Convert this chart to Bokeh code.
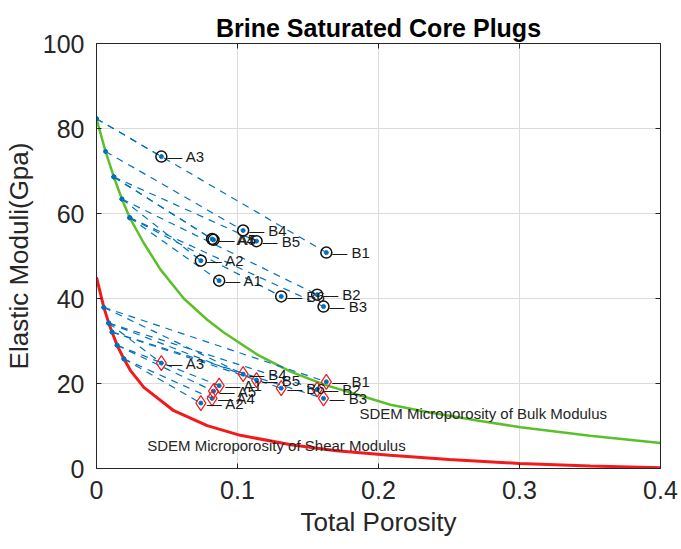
from bokeh.plotting import figure
from bokeh.models import (ColumnDataSource, FixedTicker, LinearAxis, Range1d,
                          CustomJSTickFormatter, Label, LabelSet)
from bokeh.core.properties import value
from bokeh.embed import file_html
from bokeh.resources import INLINE

# ---------------- data ----------------
samples = ["A1", "A2", "A3", "A4", "A5", "B1", "B2", "B3", "B4", "B5", "B6"]
porosity = [0.087, 0.074, 0.046, 0.082, 0.083, 0.163, 0.1565, 0.161, 0.104, 0.1135, 0.131]
bulk_mod = [44.2, 48.9, 73.4, 54.0, 53.8, 50.8, 40.9, 38.1, 56.0, 53.5, 40.5]
shear_mod = [19.5, 15.4, 24.8, 16.5, 18.2, 20.4, 18.6, 16.5, 22.2, 20.8, 18.9]

# start points of the dashed model paths on the SDEM curves
bulk_start_phi = [0.0236, 0.018, 0.0, 0.0123, 0.0123, 0.0, 0.018, 0.0236, 0.0064, 0.0123, 0.0236]
bulk_start_val = [59.0, 63.4, 82.3, 68.6, 68.6, 82.3, 63.4, 59.0, 74.6, 68.6, 59.0]
shear_start_phi = [0.0146, 0.0194, 0.0087, 0.0194, 0.0146, 0.0052, 0.0087, 0.011, 0.0052, 0.0087, 0.011]
shear_start_val = [29.0, 25.8, 34.2, 25.8, 29.0, 37.9, 34.2, 32.1, 37.9, 34.2, 32.1]

# SDEM microporosity curves
bulk_curve_phi = [0, 0.0064, 0.0123, 0.018, 0.0236, 0.0336, 0.0454, 0.0619, 0.0785,
                  0.0903, 0.114, 0.1376, 0.161, 0.2085, 0.2345, 0.27, 0.3007, 0.35, 0.4]
bulk_curve_val = [82.3, 74.6, 68.6, 63.4, 59.0, 53.0, 46.8, 40.0, 35.0,
                  32.0, 26.8, 22.8, 19.8, 15.0, 13.3, 11.3, 9.7, 7.7, 6.0]
shear_curve_phi = [0, 0.0052, 0.0087, 0.011, 0.0146, 0.0194, 0.024, 0.0336, 0.0548,
                   0.0785, 0.102, 0.138, 0.17, 0.208, 0.25, 0.3, 0.35, 0.4]
shear_curve_val = [45.0, 37.9, 34.2, 32.1, 29.0, 25.8, 23.1, 19.1, 13.6,
                   10.1, 7.8, 5.6, 4.2, 3.1, 2.1, 1.2, 0.6, 0.2]

x_ticks = [0, 0.1, 0.2, 0.3, 0.4]
y_ticks = [0, 20, 40, 60, 80, 100]

FONT = "Liberation Sans"
AX = "#262626"
BLUE = "#0072BD"

p = figure(frame_width=564, frame_height=425, output_backend="svg",
           toolbar_location=None, x_range=Range1d(0, 0.4), y_range=Range1d(0, 100),
           min_border_left=96, min_border_right=21, min_border_top=43, min_border_bottom=81,
           title="Brine Saturated Core Plugs")
p.background_fill_color = "white"
p.border_fill_color = "white"
p.outline_line_color = AX
p.outline_line_width = 1

p.title.text_font = FONT
p.title.text_font_size = "25px"
p.title.text_font_style = "bold"
p.title.text_color = "black"
p.title.align = "center"
p.title.offset = 0
p.title.standoff = 3

for ax in [p.xaxis[0], p.yaxis[0]]:
    ax.axis_line_color = AX
    ax.major_tick_line_color = AX
    ax.major_tick_in = 5
    ax.major_tick_out = 0
    ax.minor_tick_line_color = None
    ax.major_label_text_font = FONT
    ax.major_label_text_font_size = "25px"
    ax.major_label_text_color = AX
    ax.axis_label_text_font = FONT
    ax.axis_label_text_font_size = "26px"
    ax.axis_label_text_font_style = "normal"
    ax.axis_label_text_color = AX

p.xaxis.ticker = FixedTicker(ticks=x_ticks)
p.yaxis.ticker = FixedTicker(ticks=y_ticks)
p.xaxis.formatter = CustomJSTickFormatter(code="return String(Math.round(tick*10)/10);")
p.xaxis.axis_label = "Total Porosity"
p.yaxis.axis_label = "Elastic Moduli(Gpa)"
p.xaxis.major_label_standoff = 12
p.yaxis.major_label_standoff = 12
p.xaxis.axis_label_standoff = 5
p.yaxis.axis_label_standoff = 6

# box ticks on top / right
blank = CustomJSTickFormatter(code="return '';")
top = LinearAxis(ticker=FixedTicker(ticks=x_ticks), formatter=blank,
                 major_tick_in=5, major_tick_out=0, minor_tick_line_color=None,
                 axis_line_color=AX, major_tick_line_color=AX, major_label_standoff=0)
right = LinearAxis(ticker=FixedTicker(ticks=y_ticks), formatter=blank,
                   major_tick_in=5, major_tick_out=0, minor_tick_line_color=None,
                   axis_line_color=AX, major_tick_line_color=AX, major_label_standoff=0)
p.add_layout(top, "above")
p.add_layout(right, "right")

p.xgrid.ticker = FixedTicker(ticks=x_ticks)
p.ygrid.ticker = FixedTicker(ticks=y_ticks)
p.grid.grid_line_color = "#dcdcdc"
p.grid.grid_line_width = 1

# curves
p.line(bulk_curve_phi, bulk_curve_val, line_color="#5CBF2A", line_width=2.5)
p.line(shear_curve_phi, shear_curve_val, line_color="#F21A1A", line_width=3)

# dashed model paths
xs_k = [[a, b] for a, b in zip(bulk_start_phi, porosity)]
ys_k = [[a, b] for a, b in zip(bulk_start_val, bulk_mod)]
xs_g = [[a, b] for a, b in zip(shear_start_phi, porosity)]
ys_g = [[a, b] for a, b in zip(shear_start_val, shear_mod)]
p.multi_line(xs_k, ys_k, line_color=BLUE, line_width=1.2, line_dash="7 6")
p.multi_line(xs_g, ys_g, line_color=BLUE, line_width=1.2, line_dash="7 6")
p.scatter(bulk_start_phi, bulk_start_val, size=4, color=BLUE)
p.scatter(shear_start_phi, shear_start_val, size=4, color=BLUE)

src = ColumnDataSource(dict(phi=porosity, K=bulk_mod, G=shear_mod,
                            lab=["\u2014 " + s for s in samples]))
p.scatter("phi", "K", source=src, size=4, color=BLUE)
p.scatter("phi", "G", source=src, size=4, color=BLUE)
p.scatter("phi", "K", source=src, marker="circle", size=11, fill_color=None,
          line_color="#111111", line_width=1.5)
p.scatter("phi", "G", source=src, marker="diamond", size=15, fill_color=None,
          line_color="#F21A1A", line_width=1.2)

for col in ["K", "G"]:
    p.add_layout(LabelSet(x="phi", y=col, text="lab", source=src, x_offset=6,
                          text_baseline="middle", text_font=value(FONT),
                          text_font_size=value("15px"), text_color="#1a1a1a"))

p.add_layout(Label(x=0.1865, y=12.9, text="SDEM Microporosity of Bulk Modulus",
                   text_font=FONT, text_font_size="15px", text_color="#262626",
                   text_baseline="middle"))
p.add_layout(Label(x=0.036, y=5.4, text="SDEM Microporosity of Shear Modulus",
                   text_font=FONT, text_font_size="15px", text_color="#262626",
                   text_baseline="middle"))

open("out.html", "w").write(file_html(p, INLINE))
